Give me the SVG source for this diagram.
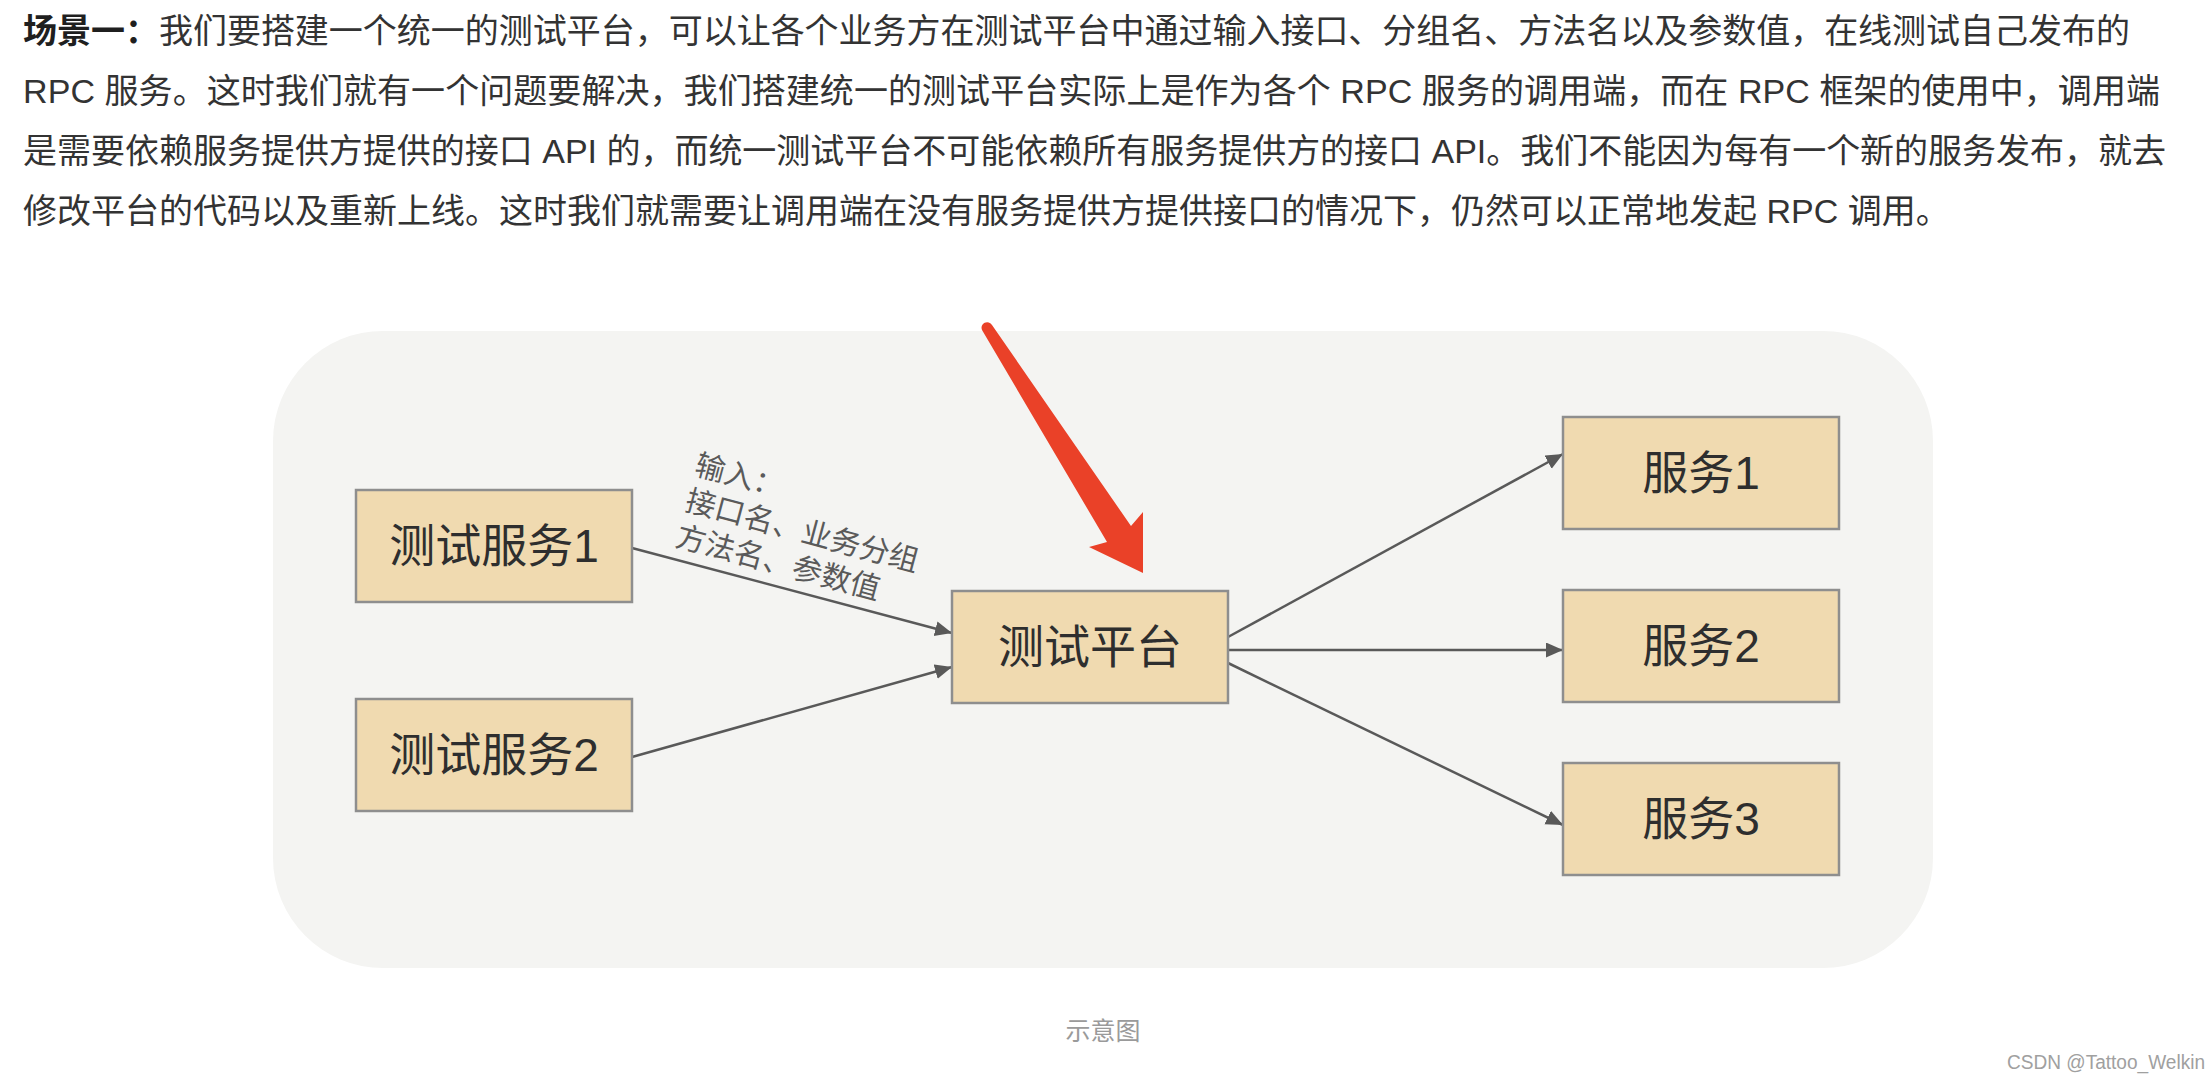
<svg xmlns="http://www.w3.org/2000/svg" width="2212" height="1082" viewBox="0 0 2212 1082">
<style>
.para{font-family:"Liberation Sans","Noto Sans CJK SC",sans-serif;font-size:34px;fill:#333333}
.b{font-weight:bold;fill:#1f1f1f}
.box{fill:#f0dab0;stroke:#8e8e8e;stroke-width:2.5}
.nt{font-family:"Liberation Sans","Noto Sans CJK SC",sans-serif;font-size:46px;fill:#2e2e2e;text-anchor:middle}
.conn{stroke:#595959;stroke-width:2.5;fill:none;marker-end:url(#ah)}
.lbl{font-family:"Liberation Sans","Noto Sans CJK SC",sans-serif;font-size:30px;fill:#5a5a5a}
.cap{font-family:"Liberation Sans","Noto Sans CJK SC",sans-serif;font-size:25px;fill:#9a9a9a;text-anchor:middle}
.wm{font-family:"Liberation Sans","Noto Sans CJK SC",sans-serif;font-size:20px;fill:#a0a0a0}
</style>
<defs>
<marker id="ah" markerUnits="userSpaceOnUse" markerWidth="18" markerHeight="16" refX="17" refY="7.5" orient="auto">
<path d="M0,0 L17,7.5 L0,15 Z" fill="#595959"/>
</marker>
</defs>
<rect width="2212" height="1082" fill="#ffffff"/>
<g id="paragraph">
<text class="para" x="23" y="43" textLength="2107" lengthAdjust="spacing"><tspan class="b">场景一：</tspan>我们要搭建一个统一的测试平台，可以让各个业务方在测试平台中通过输入接口、分组名、方法名以及参数值，在线测试自己发布的</text>
<text class="para" x="23" y="103" textLength="2137" lengthAdjust="spacing">RPC 服务。这时我们就有一个问题要解决，我们搭建统一的测试平台实际上是作为各个 RPC 服务的调用端，而在 RPC 框架的使用中，调用端</text>
<text class="para" x="23" y="163" textLength="2143" lengthAdjust="spacing">是需要依赖服务提供方提供的接口 API 的，而统一测试平台不可能依赖所有服务提供方的接口 API。我们不能因为每有一个新的服务发布，就去</text>
<text class="para" x="23" y="223">修改平台的代码以及重新上线。这时我们就需要让调用端在没有服务提供方提供接口的情况下，仍然可以正常地发起 RPC 调用。</text>
</g>
<g id="background">
<rect x="273" y="331" width="1660" height="637" rx="110" ry="110" fill="#f4f4f2"/>
</g>
<g id="connectors">
<line class="conn" x1="632" y1="548" x2="952" y2="633"/>
<line class="conn" x1="632" y1="757" x2="952" y2="667"/>
<line class="conn" x1="1228" y1="637" x2="1563" y2="454"/>
<line class="conn" x1="1228" y1="650" x2="1563" y2="650"/>
<line class="conn" x1="1228" y1="663" x2="1563" y2="825"/>
</g>
<g id="edge-label" transform="translate(700,449) rotate(15)">
<text class="lbl" x="0" y="26">输入：</text>
<text class="lbl" x="0" y="63">接口名、业务分组</text>
<text class="lbl" x="0" y="100">方法名、参数值</text>
</g>
<g id="node-test1">
<rect class="box" x="356" y="490" width="276" height="112"/>
<text class="nt" x="494" y="562">测试服务1</text>
</g>
<g id="node-test2">
<rect class="box" x="356" y="699" width="276" height="112"/>
<text class="nt" x="494" y="771">测试服务2</text>
</g>
<g id="node-platform">
<rect class="box" x="952" y="591" width="276" height="112"/>
<text class="nt" x="1090" y="663">测试平台</text>
</g>
<g id="node-svc1">
<rect class="box" x="1563" y="417" width="276" height="112"/>
<text class="nt" x="1701" y="489">服务1</text>
</g>
<g id="node-svc2">
<rect class="box" x="1563" y="590" width="276" height="112"/>
<text class="nt" x="1701" y="662">服务2</text>
</g>
<g id="node-svc3">
<rect class="box" x="1563" y="763" width="276" height="112"/>
<text class="nt" x="1701" y="835">服务3</text>
</g>
<g id="red-arrow">
<path d="M992,325 L1131,526 L1143,512 L1143,573 L1089,547 L1107,542 L982,330 A5.6,5.6 0 0 1 992,325 Z" fill="#ea4128"/>
</g>
<g id="captions">
<text class="cap" x="1103" y="1040">示意图</text>
<text class="wm" x="2007" y="1069" textLength="198" lengthAdjust="spacingAndGlyphs">CSDN @Tattoo_Welkin</text>
</g>
</svg>
